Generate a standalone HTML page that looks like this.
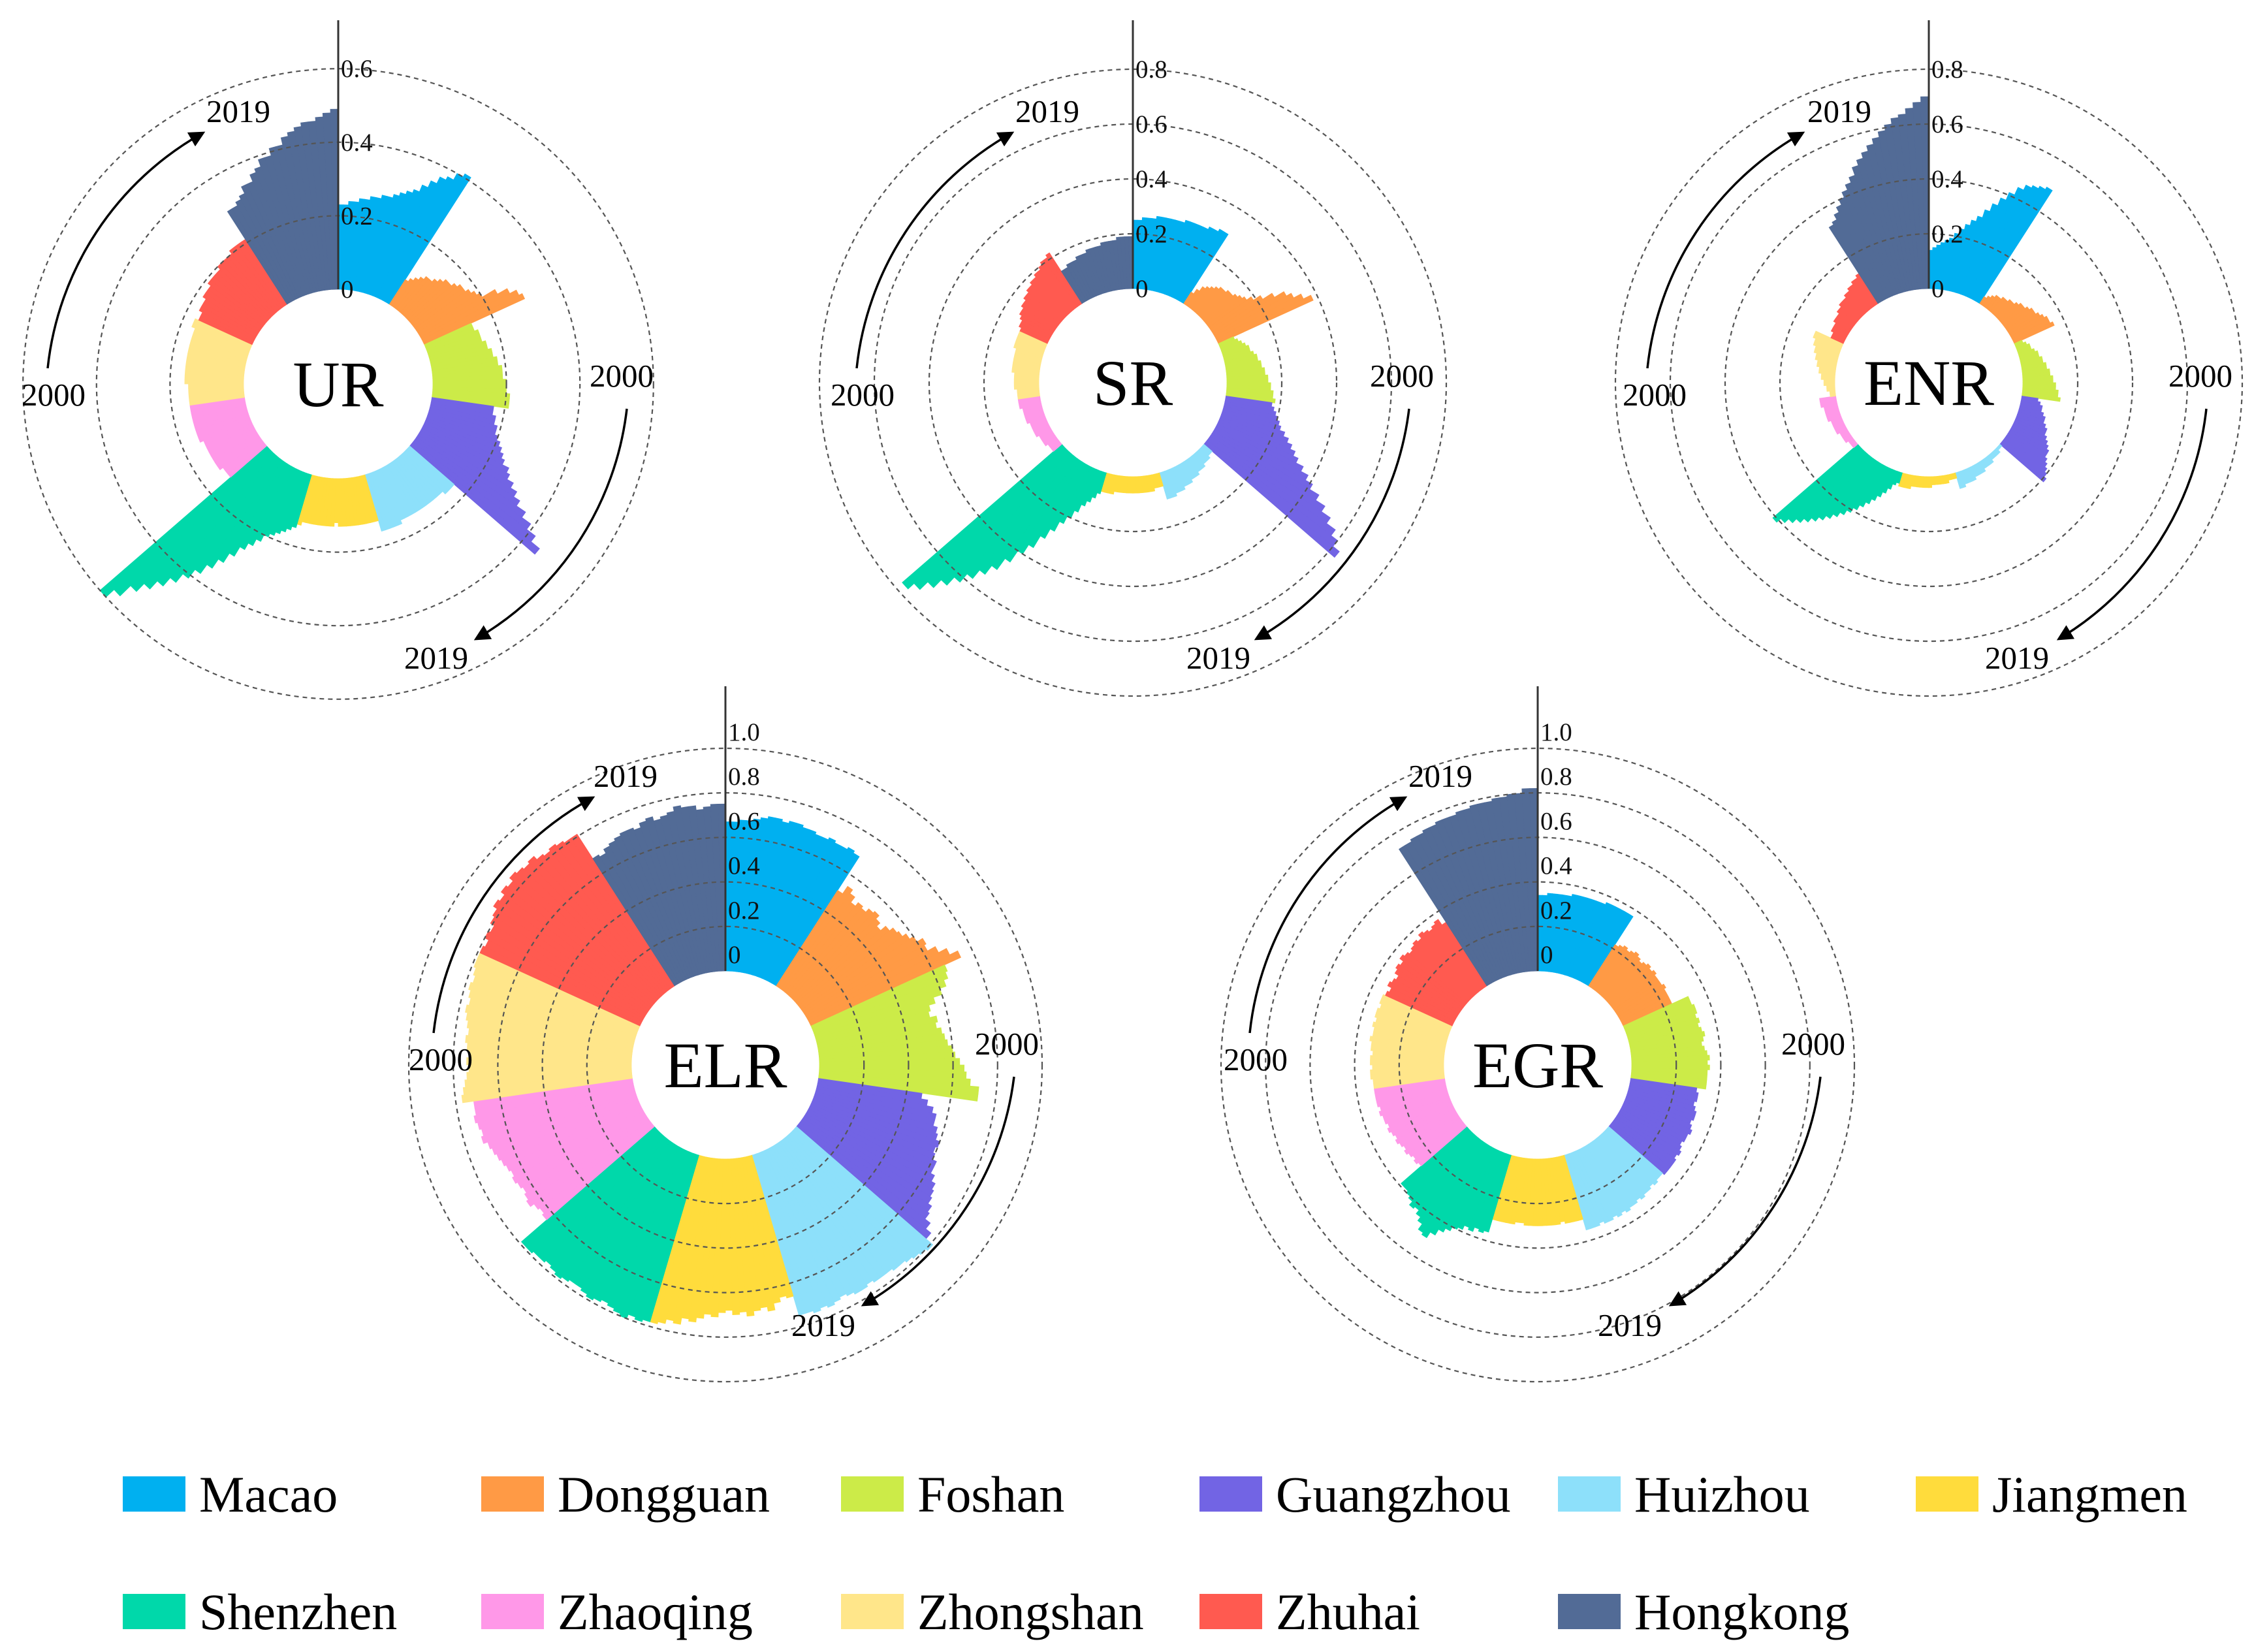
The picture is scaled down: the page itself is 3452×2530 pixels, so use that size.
<!DOCTYPE html>
<html><head><meta charset="utf-8"><style>
html,body{margin:0;padding:0;background:#fff;}
svg{display:block;font-family:"Liberation Serif",serif;}
</style></head><body>
<svg id="root" width="3452" height="2530" viewBox="0 0 3452 2530" xmlns="http://www.w3.org/2000/svg">
<defs><marker id="ah" viewBox="0 0 10 10" refX="8" refY="5" markerWidth="7" markerHeight="7" orient="auto"><path d="M0,0 L10,5 L0,10 Z" fill="#000"/></marker></defs>
<g id="charts"></g>
<g id="legend"></g>
</svg>
<script>
const cities = ["Macao","Dongguan","Foshan","Guangzhou","Huizhou","Jiangmen","Shenzhen","Zhaoqing","Zhongshan","Zhuhai","Hongkong"];
const colors = ["#00B0F0","#FF9A45","#CCEB48","#7264E4","#8DE0FA","#FFDC3C","#00D8AA","#FF98E8","#FFE68A","#FF5A50","#526B96"];
const years = ["2000","2019"];
const ticksTop1 = [0,0.2,0.4,0.6];
const ticksTop2 = [0,0.2,0.4,0.6,0.8];
const ticksBottom = [0,0.2,0.4,0.6,0.8,1.0];

const UR = [
[0.23,0.23,0.24,0.24,0.25,0.25,0.26,0.26,0.27,0.27,0.28,0.29,0.30,0.31,0.33,0.35,0.37,0.38,0.40,0.41],
[0.08,0.09,0.10,0.11,0.12,0.12,0.13,0.14,0.15,0.15,0.16,0.17,0.17,0.18,0.19,0.20,0.24,0.27,0.29,0.30],
[0.14,0.14,0.15,0.15,0.15,0.16,0.16,0.17,0.17,0.18,0.18,0.19,0.19,0.19,0.20,0.20,0.20,0.21,0.21,0.21],
[0.17,0.17,0.18,0.18,0.19,0.19,0.20,0.21,0.22,0.23,0.24,0.26,0.27,0.29,0.31,0.33,0.36,0.39,0.42,0.45],
[0.16,0.16,0.16,0.15,0.15,0.15,0.15,0.15,0.15,0.15,0.15,0.15,0.15,0.15,0.15,0.16,0.16,0.16,0.16,0.16],
[0.13,0.13,0.13,0.13,0.13,0.13,0.13,0.13,0.13,0.13,0.12,0.13,0.13,0.13,0.13,0.13,0.13,0.13,0.13,0.14],
[0.15,0.16,0.17,0.18,0.19,0.20,0.22,0.24,0.26,0.29,0.32,0.35,0.38,0.41,0.44,0.47,0.50,0.53,0.57,0.60],
[0.13,0.13,0.13,0.14,0.14,0.14,0.14,0.14,0.14,0.14,0.14,0.15,0.15,0.15,0.15,0.15,0.15,0.15,0.15,0.15],
[0.15,0.15,0.15,0.15,0.15,0.16,0.16,0.16,0.16,0.16,0.16,0.16,0.16,0.16,0.16,0.16,0.16,0.16,0.17,0.17],
[0.16,0.16,0.17,0.17,0.17,0.18,0.18,0.18,0.19,0.19,0.19,0.19,0.20,0.20,0.20,0.20,0.21,0.21,0.21,0.21],
[0.30,0.30,0.31,0.32,0.34,0.34,0.36,0.37,0.39,0.39,0.41,0.41,0.43,0.44,0.45,0.46,0.46,0.47,0.48,0.49]];
const SR = [
[0.25,0.25,0.26,0.26,0.26,0.27,0.27,0.27,0.27,0.27,0.27,0.28,0.28,0.28,0.28,0.28,0.29,0.29,0.30,0.30],
[0.05,0.07,0.09,0.10,0.11,0.12,0.13,0.13,0.14,0.14,0.15,0.16,0.17,0.19,0.22,0.26,0.30,0.32,0.35,0.38],
[0.06,0.07,0.08,0.09,0.10,0.10,0.11,0.12,0.12,0.13,0.13,0.14,0.14,0.15,0.15,0.16,0.16,0.17,0.17,0.18],
[0.17,0.18,0.19,0.20,0.21,0.22,0.24,0.26,0.28,0.30,0.32,0.35,0.38,0.41,0.45,0.49,0.53,0.57,0.60,0.63],
[0.04,0.04,0.05,0.05,0.05,0.06,0.06,0.06,0.07,0.07,0.07,0.08,0.08,0.08,0.09,0.09,0.09,0.10,0.10,0.10],
[0.05,0.05,0.05,0.06,0.06,0.06,0.06,0.06,0.06,0.06,0.06,0.06,0.06,0.06,0.06,0.06,0.07,0.07,0.07,0.07],
[0.08,0.10,0.12,0.14,0.17,0.20,0.23,0.27,0.31,0.36,0.40,0.45,0.50,0.54,0.58,0.62,0.66,0.70,0.74,0.77],
[0.04,0.04,0.04,0.05,0.05,0.05,0.05,0.06,0.06,0.06,0.06,0.06,0.07,0.07,0.07,0.07,0.07,0.08,0.08,0.08],
[0.08,0.08,0.08,0.09,0.09,0.09,0.09,0.09,0.10,0.10,0.10,0.10,0.10,0.10,0.10,0.11,0.11,0.11,0.11,0.11],
[0.11,0.12,0.12,0.13,0.14,0.14,0.15,0.15,0.16,0.16,0.17,0.17,0.18,0.18,0.19,0.19,0.20,0.21,0.21,0.22],
[0.14,0.14,0.15,0.15,0.15,0.16,0.16,0.16,0.17,0.17,0.17,0.17,0.18,0.18,0.18,0.18,0.19,0.19,0.19,0.19]];
const ENR = [
[0.14,0.15,0.16,0.17,0.18,0.19,0.21,0.23,0.25,0.27,0.29,0.32,0.35,0.38,0.41,0.44,0.46,0.47,0.48,0.49],
[0.03,0.04,0.05,0.06,0.06,0.07,0.07,0.08,0.08,0.09,0.10,0.10,0.11,0.12,0.12,0.13,0.14,0.15,0.15,0.16],
[0.03,0.04,0.05,0.05,0.06,0.07,0.07,0.08,0.08,0.09,0.09,0.10,0.10,0.11,0.11,0.12,0.12,0.13,0.13,0.14],
[0.06,0.07,0.08,0.08,0.09,0.10,0.10,0.11,0.12,0.12,0.13,0.14,0.15,0.16,0.16,0.17,0.18,0.19,0.20,0.21],
[0.01,0.01,0.02,0.02,0.02,0.02,0.03,0.03,0.03,0.03,0.04,0.04,0.04,0.04,0.05,0.05,0.05,0.05,0.06,0.06],
[0.02,0.02,0.02,0.03,0.03,0.03,0.03,0.03,0.03,0.04,0.04,0.04,0.04,0.04,0.04,0.04,0.05,0.05,0.05,0.05],
[0.04,0.05,0.07,0.09,0.11,0.13,0.15,0.17,0.19,0.21,0.23,0.25,0.27,0.29,0.31,0.33,0.35,0.37,0.39,0.41],
[0.02,0.02,0.02,0.03,0.03,0.03,0.03,0.04,0.04,0.04,0.04,0.04,0.05,0.05,0.05,0.05,0.05,0.06,0.06,0.06],
[0.02,0.02,0.03,0.03,0.04,0.04,0.05,0.05,0.06,0.06,0.07,0.07,0.08,0.08,0.09,0.09,0.10,0.10,0.11,0.11],
[0.05,0.05,0.06,0.06,0.06,0.07,0.07,0.07,0.08,0.08,0.09,0.09,0.09,0.10,0.10,0.11,0.11,0.12,0.12,0.13],
[0.33,0.34,0.36,0.38,0.40,0.42,0.44,0.46,0.49,0.51,0.53,0.55,0.57,0.59,0.61,0.63,0.64,0.66,0.68,0.70]];
const ELR = [
[0.67,0.67,0.68,0.68,0.69,0.70,0.71,0.71,0.70,0.71,0.71,0.70,0.70,0.69,0.69,0.70,0.69,0.69,0.70,0.69],
[0.51,0.55,0.53,0.50,0.52,0.51,0.53,0.54,0.52,0.50,0.53,0.55,0.56,0.58,0.60,0.63,0.62,0.66,0.70,0.74],
[0.66,0.65,0.63,0.60,0.56,0.53,0.52,0.55,0.54,0.56,0.57,0.58,0.60,0.61,0.63,0.65,0.66,0.68,0.72,0.72],
[0.47,0.50,0.53,0.55,0.55,0.57,0.58,0.60,0.59,0.60,0.62,0.62,0.64,0.66,0.67,0.68,0.70,0.71,0.74,0.77],
[0.81,0.80,0.79,0.78,0.77,0.77,0.76,0.76,0.76,0.75,0.76,0.76,0.75,0.74,0.75,0.76,0.75,0.76,0.75,0.75],
[0.66,0.65,0.67,0.70,0.68,0.69,0.71,0.69,0.70,0.68,0.69,0.71,0.70,0.72,0.74,0.73,0.76,0.75,0.77,0.78],
[0.78,0.79,0.78,0.80,0.79,0.78,0.77,0.78,0.79,0.78,0.77,0.77,0.78,0.79,0.78,0.77,0.78,0.78,0.79,0.79],
[0.64,0.63,0.64,0.66,0.65,0.64,0.65,0.66,0.65,0.66,0.67,0.68,0.69,0.70,0.72,0.71,0.72,0.73,0.72,0.72],
[0.77,0.76,0.75,0.74,0.73,0.74,0.73,0.74,0.75,0.74,0.75,0.76,0.77,0.76,0.77,0.78,0.77,0.78,0.79,0.79],
[0.79,0.78,0.80,0.79,0.81,0.82,0.84,0.83,0.85,0.84,0.86,0.85,0.84,0.85,0.83,0.82,0.83,0.82,0.81,0.81],
[0.68,0.67,0.69,0.70,0.71,0.72,0.72,0.71,0.73,0.74,0.72,0.73,0.74,0.76,0.75,0.75,0.73,0.74,0.75,0.75]];
const EGR = [
[0.34,0.34,0.35,0.35,0.35,0.35,0.35,0.36,0.36,0.36,0.36,0.36,0.36,0.36,0.37,0.37,0.37,0.37,0.37,0.37],
[0.22,0.23,0.24,0.23,0.24,0.25,0.24,0.23,0.24,0.25,0.24,0.25,0.24,0.24,0.24,0.25,0.24,0.24,0.24,0.24],
[0.32,0.32,0.33,0.33,0.32,0.33,0.32,0.33,0.34,0.33,0.32,0.33,0.34,0.35,0.34,0.35,0.34,0.34,0.34,0.34],
[0.30,0.31,0.31,0.30,0.31,0.32,0.32,0.31,0.32,0.33,0.32,0.32,0.31,0.32,0.33,0.32,0.33,0.33,0.33,0.33],
[0.32,0.32,0.33,0.32,0.33,0.33,0.34,0.33,0.34,0.34,0.35,0.34,0.35,0.34,0.35,0.35,0.34,0.35,0.35,0.35],
[0.30,0.30,0.30,0.30,0.29,0.30,0.30,0.30,0.30,0.30,0.30,0.30,0.30,0.29,0.29,0.30,0.30,0.30,0.30,0.30],
[0.36,0.37,0.36,0.38,0.37,0.39,0.40,0.42,0.44,0.47,0.50,0.49,0.46,0.44,0.42,0.43,0.41,0.40,0.39,0.39],
[0.27,0.28,0.27,0.28,0.29,0.28,0.29,0.30,0.29,0.30,0.31,0.30,0.31,0.31,0.32,0.31,0.32,0.32,0.32,0.32],
[0.32,0.32,0.33,0.33,0.32,0.33,0.33,0.32,0.33,0.33,0.34,0.33,0.33,0.34,0.33,0.34,0.34,0.33,0.34,0.34],
[0.33,0.32,0.34,0.33,0.32,0.34,0.35,0.34,0.36,0.35,0.34,0.35,0.36,0.35,0.37,0.36,0.35,0.36,0.37,0.34],
[0.73,0.73,0.74,0.74,0.75,0.75,0.76,0.76,0.76,0.77,0.77,0.78,0.78,0.78,0.79,0.79,0.80,0.80,0.82,0.82]];

const NS = "http://www.w3.org/2000/svg";
function mk(tag, attrs, parent){ const e=document.createElementNS(NS,tag); for(const k in attrs) e.setAttribute(k,attrs[k]); if(parent) parent.appendChild(e); return e; }

const charts = [
 {id:"ur", label:"UR", data:UR, cx:518, cy:588, r0:145, scale:563, ticks:ticksTop1, axisTop:31, tickDy:13,
  yl:[[365,187],[82,621],[952,592],[668,1024]], arrows:[[-445,-24,-208,-384],[442,38,212,390]]},
 {id:"sr", label:"SR", data:SR, cx:1735, cy:586, r0:144, scale:420, ticks:ticksTop2, axisTop:31, tickDy:13,
  yl:[[1604,187],[1321,621],[2147,592],[1866,1024]], arrows:[[-423,-22,-186,-382],[423,40,190,392]]},
 {id:"enr", label:"ENR", data:ENR, cx:2954, cy:586, r0:144, scale:420, ticks:ticksTop2, axisTop:31, tickDy:13,
  yl:[[2817,187],[2534,621],[3370,592],[3089,1024]], arrows:[[-431,-22,-194,-382],[425,40,200,392]]},
 {id:"elr", label:"ELR", data:ELR, cx:1111, cy:1631, r0:144, scale:341, ticks:ticksBottom, axisTop:1051, tickDy:-12,
  yl:[[958,1205],[675,1639],[1542,1615],[1261,2046]], arrows:[[-447,-49,-204,-409],[442,18,212,367]]},
 {id:"egr", label:"EGR", data:EGR, cx:2355, cy:1631, r0:144, scale:341, ticks:ticksBottom, axisTop:1051, tickDy:-12,
  yl:[[2206,1205],[1923,1639],[2777,1615],[2496,2046]], arrows:[[-441,-49,-204,-409],[433,18,205,367]]}
];
const root = document.getElementById("charts");

charts.forEach(c=>{
  const g = mk("g",{}, root);
  
  
  const pg = mk("g",{transform:`translate(${c.cx},${c.cy})`}, g);
  const nC = c.data.length, sec = 360/nC;
  const rad = v => c.r0 + v*c.scale;
  c.data.forEach((vals,ci)=>{
    const cg = mk("g",{}, pg);
    
    
    const n = vals.length, step = sec/n;
    vals.forEach((v,yi)=>{
      const a0=(ci*sec+yi*step)*Math.PI/180, a1=(ci*sec+(yi+1)*step)*Math.PI/180;
      const ri=c.r0, ro=rad(v);
      const p = (r,a)=>`${(Math.sin(a)*r).toFixed(2)},${(-Math.cos(a)*r).toFixed(2)}`;
      const d=`M${p(ri,a0)} L${p(ro,a0)} A${ro},${ro} 0 0 1 ${p(ro,a1)} L${p(ri,a1)} A${ri},${ri} 0 0 0 ${p(ri,a0)} Z`;
      const b = mk("path",{d:d, fill:colors[ci], stroke:colors[ci], "stroke-width":0.8}, cg);
      
      
    });
  });
  c.ticks.forEach(t=>{
    if(t===0) return;
    const e = mk("circle",{cx:0, cy:0, r:rad(t), fill:"none", stroke:"#555", "stroke-width":2.2, "stroke-dasharray":"7 6"}, pg);
    
    
  });
  const ax = mk("line",{x1:c.cx, y1:c.axisTop, x2:c.cx, y2:c.cy-c.r0, stroke:"#333", "stroke-width":3}, g);
  
  
  c.ticks.forEach(t=>{
    const tx = mk("text",{x:c.cx+4, y:c.cy-rad(t)+c.tickDy, "font-size":39, fill:"#111"}, g);
    tx.textContent = t===0 ? "0" : t.toFixed(1);
    
    
  });
  const cl = mk("text",{x:c.cx, y:c.cy+34, "font-size":100, "text-anchor":"middle", fill:"#000"}, g);
  cl.textContent = c.label;
  
  
  const ylText=[years[1],years[0],years[0],years[1]];
  c.yl.forEach((p,i)=>{
    const t = mk("text",{x:p[0], y:p[1], "font-size":49, "text-anchor":"middle", fill:"#000"}, g);
    t.textContent = ylText[i];
    
    
  });
  c.arrows.forEach(a=>{
    const x0=c.cx+a[0], y0=c.cy+a[1], x1=c.cx+a[2], y1=c.cy+a[3];
    const ar = mk("path",{d:`M${x0},${y0} A470,470 0 0 1 ${x1},${y1}`, fill:"none", stroke:"#000", "stroke-width":3.5, "marker-end":"url(#ah)"}, g);
    
    
  });
});

const lg = document.getElementById("legend");
const colX = [188,737,1288,1837,2386,2934];
cities.forEach((name,i)=>{
  const row = i<6?0:1, col = i<6?i:i-6;
  const x = colX[col], y = row===0?2261:2441;
  const eg = mk("g",{}, lg);
  
  
  const r = mk("rect",{x:x, y:y, width:96, height:54, fill:colors[i]}, eg);
  
  
  const t = mk("text",{x:x+117, y:y+54, "font-size":78, fill:"#000"}, eg);
  t.textContent = name;
  
  
});
</script>
</body></html>
